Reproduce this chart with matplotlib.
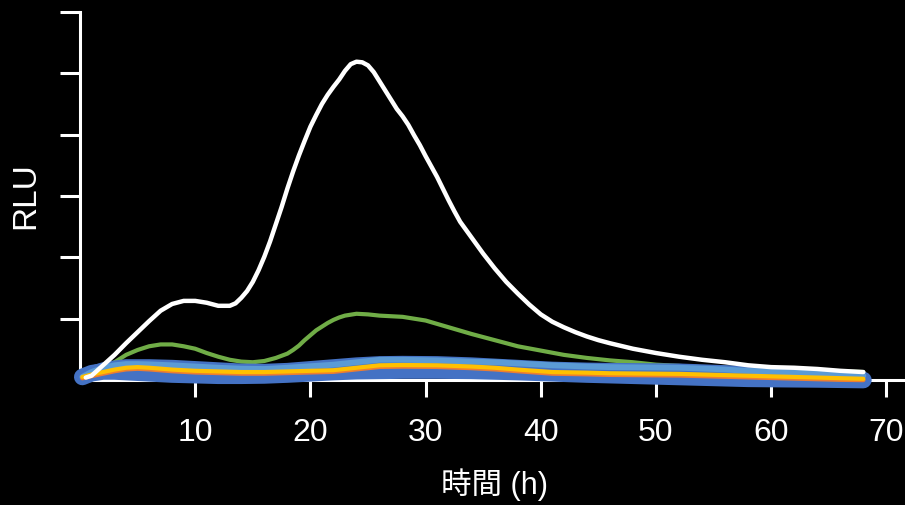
import matplotlib
matplotlib.use("Agg")
import matplotlib.pyplot as plt

plt.rcParams["font.family"] = ["Liberation Sans", "Noto Sans CJK JP"]

# Luminescence traces (RLU, arbitrary units) against time in hours
hours_white = [0.5, 1, 2, 3, 4, 5, 6, 7, 8, 9, 10, 11, 12, 13, 13.5, 14, 14.5, 15,
               15.5, 16, 16.5, 17, 17.5, 18, 18.5, 19, 19.5, 20, 20.5, 21, 21.5, 22,
               22.5, 23, 23.5, 24, 24.5, 25, 25.5, 26, 26.5, 27, 27.5, 28, 28.5, 29,
               29.5, 30, 30.5, 31, 31.5, 32, 32.5, 33, 33.5, 34, 35, 36, 37, 38, 39,
               40, 41, 42, 43, 44, 45, 46, 48, 50, 52, 54, 56, 58, 60, 62, 64, 66, 68]
rlu_white = [0.04, 0.07, 0.24, 0.41, 0.60, 0.78, 0.96, 1.13, 1.24, 1.29, 1.29, 1.26,
             1.21, 1.21, 1.25, 1.34, 1.45, 1.60, 1.79, 2.01, 2.26, 2.54, 2.82, 3.12,
             3.40, 3.66, 3.90, 4.13, 4.32, 4.50, 4.65, 4.78, 4.90, 5.04, 5.15, 5.19,
             5.18, 5.13, 5.02, 4.87, 4.72, 4.57, 4.42, 4.30, 4.16, 3.99, 3.83, 3.65,
             3.48, 3.31, 3.12, 2.93, 2.75, 2.58, 2.45, 2.32, 2.06, 1.82, 1.60, 1.41,
             1.23, 1.07, 0.95, 0.86, 0.78, 0.71, 0.65, 0.60, 0.51, 0.44, 0.38, 0.33,
             0.29, 0.24, 0.21, 0.20, 0.18, 0.15, 0.13]

hours_green = [0.5, 1, 2, 3, 4, 5, 6, 7, 8, 9, 10, 11, 12, 13, 14, 15, 16, 17, 18,
               18.5, 19, 19.5, 20, 20.5, 21, 21.5, 22, 22.5, 23, 24, 25, 26, 27, 28,
               29, 30, 32, 34, 36, 38, 40, 42, 44, 46, 48, 50, 52, 54, 56, 58, 60, 62,
               64, 66, 68]
rlu_green = [0.04, 0.07, 0.21, 0.29, 0.41, 0.49, 0.55, 0.58, 0.58, 0.55, 0.51, 0.44,
             0.38, 0.33, 0.30, 0.29, 0.31, 0.36, 0.43, 0.49, 0.56, 0.65, 0.73, 0.81,
             0.87, 0.93, 0.98, 1.02, 1.05, 1.08, 1.07, 1.05, 1.04, 1.03, 1.00, 0.97,
             0.86, 0.75, 0.65, 0.55, 0.48, 0.41, 0.36, 0.32, 0.29, 0.25, 0.23, 0.21,
             0.20, 0.19, 0.17, 0.16, 0.15, 0.14, 0.13]

hours_low = [0.2, 1, 2, 3, 4, 5, 6, 8, 10, 12, 14, 16, 18, 20, 22, 24, 26, 28, 31,
             34, 36, 38, 41, 44, 46, 49, 52, 55, 58, 61, 64, 66, 68]
rlu_blue_a = [0.05, 0.11, 0.14, 0.14, 0.13, 0.12, 0.11, 0.09, 0.08, 0.07, 0.07, 0.075,
              0.09, 0.11, 0.13, 0.145, 0.15, 0.155, 0.155, 0.15, 0.14, 0.13, 0.11,
              0.09, 0.08, 0.065, 0.05, 0.035, 0.02, 0.015, 0.01, 0.005, 0.0]
rlu_blue_b = [0.07, 0.15, 0.21, 0.24, 0.26, 0.26, 0.26, 0.25, 0.23, 0.21, 0.19, 0.185,
              0.20, 0.23, 0.26, 0.29, 0.31, 0.315, 0.31, 0.29, 0.27, 0.25, 0.22, 0.205,
              0.20, 0.195, 0.19, 0.17, 0.15, 0.12, 0.08, 0.055, 0.03]
rlu_lightblue = [0.05, 0.13, 0.20, 0.24, 0.26, 0.26, 0.255, 0.24, 0.22, 0.20, 0.185,
                 0.18, 0.20, 0.225, 0.25, 0.29, 0.33, 0.33, 0.32, 0.30, 0.29, 0.27,
                 0.24, 0.22, 0.21, 0.205, 0.20, 0.18, 0.15, 0.13, 0.11, 0.09, 0.07]
rlu_orange = [0.03, 0.065, 0.105, 0.145, 0.175, 0.185, 0.175, 0.145, 0.125, 0.115,
              0.105, 0.105, 0.115, 0.125, 0.135, 0.175, 0.215, 0.22, 0.215, 0.195,
              0.175, 0.145, 0.105, 0.095, 0.085, 0.08, 0.075, 0.06, 0.045, 0.03,
              0.015, 0.005, 0.0]
rlu_yellow = [0.05, 0.09, 0.13, 0.17, 0.20, 0.21, 0.20, 0.17, 0.15, 0.14, 0.13, 0.13,
              0.14, 0.15, 0.16, 0.20, 0.24, 0.245, 0.24, 0.22, 0.20, 0.17, 0.13, 0.12,
              0.11, 0.105, 0.10, 0.085, 0.07, 0.055, 0.04, 0.03, 0.02]

x_ticks = [10, 20, 30, 40, 50, 60, 70]
y_ticks = [1, 2, 3, 4, 5, 6]

fig = plt.figure(figsize=(9.05, 5.05), dpi=100, facecolor="black")
ax = fig.add_axes([0.0884, 0.2475, 0.9165, 0.7287])
ax.set_facecolor("black")

line_kw = dict(solid_capstyle="round", solid_joinstyle="round", clip_on=False)
ax.plot(hours_green, rlu_green, color="#70AD47", lw=3.0, zorder=2, **line_kw)
ax.plot(hours_low, rlu_blue_a, color="#4472C4", lw=12.0, zorder=3, **line_kw)
ax.plot(hours_low, rlu_blue_b, color="#4472C4", lw=7.0, zorder=3, **line_kw)
ax.plot(hours_low, rlu_lightblue, color="#5B9BD5", lw=4.2, zorder=4, **line_kw)
ax.plot(hours_low, rlu_orange, color="#ED7D31", lw=3.2, zorder=5, **line_kw)
ax.plot(hours_low, rlu_yellow, color="#FFC000", lw=3.0, zorder=6, **line_kw)
ax.plot(hours_white, rlu_white, color="white", lw=3.2, zorder=7, **line_kw)

ax.set_xlim(0, 72)
ax.set_ylim(0, 6)
ax.set_xticks(x_ticks)
ax.set_yticks(y_ticks)
ax.set_yticklabels([])

for side in ("top", "right"):
    ax.spines[side].set_visible(False)
for side in ("left", "bottom"):
    ax.spines[side].set_color("white")
    ax.spines[side].set_linewidth(2.2)

ax.tick_params(axis="x", colors="white", length=12, width=2.2, labelsize=23, pad=15)
ax.tick_params(axis="y", colors="white", length=14.4, width=2.2)

ax.set_xlabel("時間 (h)", color="white", fontsize=22, labelpad=15)
ax.set_ylabel("RLU", color="white", fontsize=24, labelpad=10)

fig.savefig("out.png", dpi=100, facecolor="black")
